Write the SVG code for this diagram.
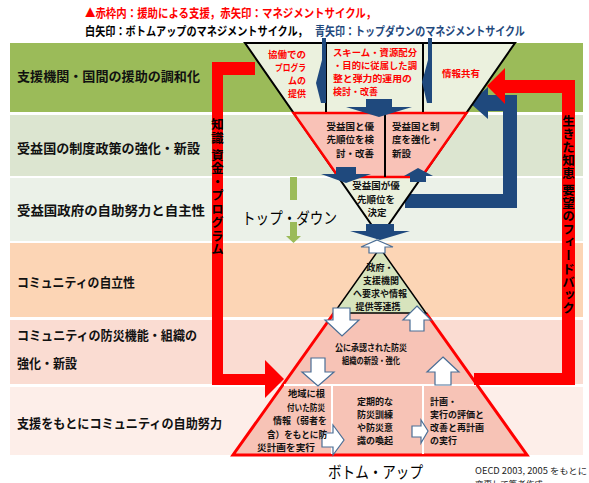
<svg xmlns="http://www.w3.org/2000/svg" width="589" height="483" viewBox="0 0 589 483">
<style>
text{font-family:"Noto Sans CJK JP","Noto Sans",sans-serif;}
.lbl{font-size:13px;font-weight:bold;fill:#111;}
.ttl{font-size:12px;font-weight:bold;}
.rt{font-size:9px;font-weight:bold;fill:#f00;}
.bt{font-size:9.5px;font-weight:bold;fill:#111;}
.ct{font-size:9px;font-weight:bold;fill:#111;}
.big{font-size:16px;fill:#000;}
.vt{font-size:12.5px;font-weight:bold;fill:#000;writing-mode:vertical-rl;}
.blue{fill:#1F497D;}
.red{fill:#f00;}
.wa{fill:#fff;stroke:#4A6E96;stroke-width:1.2;stroke-linejoin:miter;}
.wline{stroke:#fff;stroke-width:2;}
</style>

<g id="title">
<text class="ttl" transform="translate(85,18) scale(0.87,1)" fill="#f00">▲赤枠内：援助による支援，赤矢印：マネジメントサイクル，</text>
<text class="ttl" transform="translate(85,36) scale(0.846,1)" fill="#000">白矢印：ボトムアップのマネジメントサイクル，</text>
<text class="ttl" transform="translate(315,36) scale(0.835,1)" fill="#1F497D">青矢印：トップダウンのマネジメントサイクル</text>
</g>

<g id="band-1"><rect x="10" y="43" width="573" height="69" fill="#9BBB59"/><text class="lbl" x="17" y="81" textLength="183" lengthAdjust="spacingAndGlyphs">支援機関・国間の援助の調和化</text></g>
<g id="band-2"><rect x="10" y="115" width="573" height="61" fill="#DCE5D0"/><text class="lbl" x="17" y="153" textLength="183" lengthAdjust="spacingAndGlyphs">受益国の制度政策の強化・新設</text></g>
<g id="band-3"><rect x="10" y="178" width="573" height="63" fill="#EBF1E8"/><text class="lbl" x="17" y="215" textLength="188" lengthAdjust="spacingAndGlyphs">受益国政府の自助努力と自主性</text></g>
<g id="band-4"><rect x="10" y="243" width="573" height="74" fill="#FCD5B5"/><text class="lbl" x="17" y="287" textLength="118" lengthAdjust="spacingAndGlyphs">コミュニティの自立性</text></g>
<g id="band-5"><rect x="10" y="320" width="573" height="64" fill="#FADCD2"/><text class="lbl" x="17" y="340" textLength="180" lengthAdjust="spacingAndGlyphs">コミュニティの防災機能・組織の</text><text class="lbl" x="17" y="368" textLength="60" lengthAdjust="spacingAndGlyphs">強化・新設</text></g>
<g id="band-6"><rect x="10" y="387" width="573" height="68" fill="#FDEEE9"/><text class="lbl" x="17" y="428" textLength="205" lengthAdjust="spacingAndGlyphs">支援をもとにコミュニティの自助努力</text></g>

<g id="connectors-back">
<path class="blue" d="M470 103 L488 87 V95 H517 V208 H405 V194 H503 V111 H488 V119 Z"/>
</g>

<g id="funnel">
<polygon points="245,43 515,43 380,237" fill="#EBF1DE" stroke="#000" stroke-width="2"/>
<polygon points="293.5,113 466.5,113 421.5,177 338.5,177" fill="#F9C2B7" stroke="#f00" stroke-width="2.5" stroke-linejoin="miter"/>
<line x1="326" y1="43" x2="326" y2="112" stroke="#000" stroke-width="2"/>
<line x1="423" y1="43" x2="423" y2="112" stroke="#000" stroke-width="2"/>
<line x1="385" y1="113" x2="385" y2="177" stroke="#000" stroke-width="2"/>
</g>

<g id="pyramid">
<polygon points="334,313 426,313 527,455 233,455" fill="#F7C3B6"/>
<polyline points="334,313 233,455 527,455 426,313" fill="none" stroke="#f00" stroke-width="3" stroke-linejoin="miter"/>
<polygon points="380,248 426,313 334,313" fill="#D7E4BD" stroke="#000" stroke-width="1.5"/>
<line class="wline" x1="284" y1="385" x2="476" y2="385"/>
<line class="wline" x1="332" y1="385" x2="332" y2="454"/>
<line class="wline" x1="423" y1="385" x2="423" y2="454"/>
</g>

<g id="connectors">
<path class="blue" d="M322 38 H326 V103 H321 L316 83 L322 60 Z"/>
<path class="blue" d="M428 38 H432 V103 H427 L422 82 L428 60 Z"/>
<path class="blue" d="M366 99 H392 V107 H412 L379 117 L346 107 H366 Z"/>
<path class="blue" d="M336 167 H356 V174 H371 L346 183 L321 174 H336 Z"/>
<path class="blue" d="M418 168 L433 176 H426 V182 H410 V176 H404 Z"/>
<path class="blue" d="M366 224 H394 V231 H410 L380 240 L350 231 H366 Z"/>
<path class="wa" d="M377 240 L393 247 H385 V253 H369 V247 H361 Z"/>
<path class="red" d="M212 62 H255 V75 H223 V374 H265 V360 L284 379 L265 398 V385 H212 Z"/>
<path class="red" d="M487 86 L505 68 V80 H575 V385 H474 V373 H562 V93 H505 V104 Z"/>
<path class="wa" d="M333 308 H350 V320 H359 L342 336 L325 320 H333 Z"/>
<path class="wa" d="M417 306 L431 320 H424 V331 H410 V320 H403 Z"/>
<path class="wa" d="M311 358 H325 V372 H334 L318 386 L302 372 H311 Z"/>
<path class="wa" d="M443 357 L459 372 H451 V385 H435 V372 H427 Z"/>
<path class="wa" d="M322 433 H333 V425 L344 440 L333 455 V447 H322 Z"/>
<path class="wa" d="M412 426 H421 V420 L428 431 L421 443 V437 H412 Z"/>
<g fill="#9BBB59"><rect x="290" y="177" width="7" height="23"/><rect x="290" y="222" width="7" height="14"/><polygon points="286,236 301,236 293.5,243"/></g>
</g>

<g id="labels-funnel">
<text class="rt" text-anchor="end" x="306" y="58" textLength="38" lengthAdjust="spacingAndGlyphs">協働での</text>
<text class="rt" text-anchor="end" x="306" y="71" textLength="31" lengthAdjust="spacingAndGlyphs">プログラ</text>
<text class="rt" text-anchor="end" x="306" y="84">ムの</text>
<text class="rt" text-anchor="end" x="306" y="97">提供</text>
<text class="rt" x="333" y="56" textLength="84" lengthAdjust="spacingAndGlyphs">スキーム・資源配分</text>
<text class="rt" x="333" y="69" textLength="84" lengthAdjust="spacingAndGlyphs">・目的に従属した調</text>
<text class="rt" x="333" y="82" textLength="79" lengthAdjust="spacingAndGlyphs">整と弾力的運用の</text>
<text class="rt" x="333" y="95" textLength="45" lengthAdjust="spacingAndGlyphs">検討・改善</text>
<text class="rt" text-anchor="middle" x="461" y="77" textLength="38" lengthAdjust="spacingAndGlyphs">情報共有</text>
<text class="bt" text-anchor="end" x="374" y="129.5">受益国と優</text>
<text class="bt" text-anchor="end" x="374" y="143">先順位を検</text>
<text class="bt" text-anchor="end" x="374" y="156.5">討・改善</text>
<text class="bt" x="392" y="129.5">受益国と制</text>
<text class="bt" x="392" y="143">度を強化・</text>
<text class="bt" x="392" y="156.5">新設</text>
<text class="bt" text-anchor="middle" x="376" y="189">受益国が優</text>
<text class="bt" text-anchor="middle" x="376" y="202.5">先順位を</text>
<text class="bt" text-anchor="middle" x="377" y="216">決定</text>
</g>

<g id="labels-pyramid">
<text class="ct" text-anchor="middle" x="380" y="271">政府・</text>
<text class="ct" text-anchor="middle" x="381" y="284">支援機関</text>
<text class="ct" text-anchor="middle" x="380" y="297">へ要求や情報</text>
<text class="ct" text-anchor="middle" x="378" y="310">提供等連携</text>
<text class="ct" x="335" y="351" textLength="72" lengthAdjust="spacingAndGlyphs">公に承認された防災</text>
<text class="ct" x="342" y="364" textLength="58" lengthAdjust="spacingAndGlyphs">組織の新設・強化</text>
<text class="ct" x="288" y="397" textLength="37" lengthAdjust="spacingAndGlyphs">地域に根</text>
<text class="ct" x="287" y="410.5" textLength="38" lengthAdjust="spacingAndGlyphs">付いた防災</text>
<text class="ct" x="273" y="424" textLength="54" lengthAdjust="spacingAndGlyphs">情報（弱者を</text>
<text class="ct" x="267" y="437.5" textLength="60" lengthAdjust="spacingAndGlyphs">含）をもとに防</text>
<text class="ct" x="257" y="451" textLength="58" lengthAdjust="spacingAndGlyphs">災計画を実行</text>
<text class="ct" x="357" y="405">定期的な</text>
<text class="ct" x="357" y="418">防災訓練</text>
<text class="ct" x="357" y="431">や防災意</text>
<text class="ct" x="357" y="444">識の喚起</text>
<text class="ct" x="430" y="405">計画・</text>
<text class="ct" x="430" y="418">実行の評価と</text>
<text class="ct" x="430" y="431">改善と再計画</text>
<text class="ct" x="430" y="444">の実行</text>
</g>

<g id="labels-arrows">
<text class="vt" x="217.5" y="118" letter-spacing="1">知識 資金・プログラム</text>
<text class="vt" x="568.5" y="115" letter-spacing="0.6">生きた知恵 要望のフィードバック</text>
<text class="big" x="242" y="224" textLength="95" lengthAdjust="spacingAndGlyphs">トップ・ダウン</text>
<text class="big" x="328" y="478" textLength="95" lengthAdjust="spacingAndGlyphs">ボトム・アップ</text>
</g>

<g id="source" font-family="Liberation Sans, sans-serif">
<text x="475" y="474" font-size="8.5" fill="#222" textLength="112" lengthAdjust="spacingAndGlyphs">OECD  2003, 2005  をもとに</text>
<text x="475" y="487" font-size="8.5" fill="#222">変更して筆者作成</text>
</g>
</svg>
